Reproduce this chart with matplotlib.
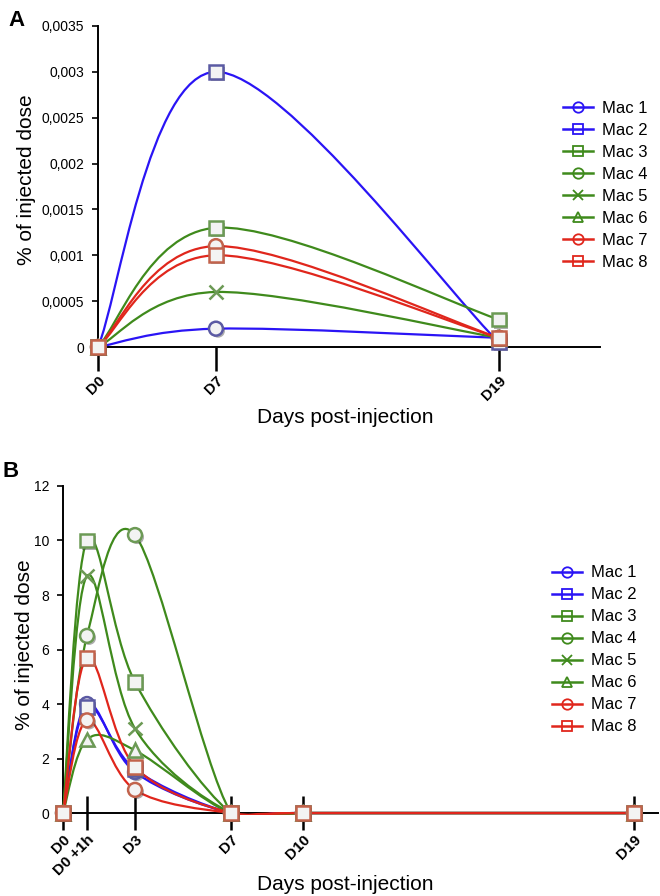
import numpy as np
import matplotlib
matplotlib.use("Agg")
import matplotlib.pyplot as plt
from matplotlib.path import Path
from matplotlib.patches import PathPatch, Rectangle
from matplotlib.lines import Line2D
import matplotlib.patheffects as pe

plt.rcParams['font.family'] = ['Liberation Sans', 'DejaVu Sans']

# series names / styles
names = ["Mac 1", "Mac 2", "Mac 3", "Mac 4", "Mac 5", "Mac 6", "Mac 7", "Mac 8"]
markers = ["o", "s", "s", "o", "x", "^", "o", "s"]
line_col = {"b": "#2a14f5", "g": "#3f8a1c", "r": "#e0261c"}
mark_col = {"b": "#5b5aa3", "g": "#6c9a55", "r": "#c2634c"}
groups = ["b", "b", "g", "g", "g", "g", "r", "r"]

# panel A : D0, D7, D19 (D19 sits at ~24 on the chart's x scale)
xA = [0, 7, 23.8]
xA_labels = ["D0", "D7", "D19"]
mac1_A = [0, 0.0002, 0.0001]
mac2_A = [0, 0.003, 0.00005]
mac3_A = [0, 0.0013, 0.0003]
mac4_A = [0, np.nan, 0.0001]
mac5_A = [0, 0.0006, 0.0001]
mac6_A = [0, np.nan, 0.0001]
mac7_A = [0, 0.0011, 0.0001]
mac8_A = [0, 0.001, 0.0001]
yA_ticks = [0, 0.0005, 0.001, 0.0015, 0.002, 0.0025, 0.003, 0.0035]
yA_labels = ["0", "0,0005", "0,001", "0,0015", "0,002", "0,0025", "0,003", "0,0035"]

# panel B
xB = [0, 1, 3, 7, 10, 23.8]
xB_labels = ["D0", "D0 +1h", "D3", "D7", "D10", "D19"]
mac1_B = [0, 4.0, 1.5, 0, 0, 0]
mac2_B = [0, 3.9, 1.6, 0, 0, 0]
mac3_B = [0, 10.0, 4.8, 0, 0, 0]
mac4_B = [0, 6.5, 10.2, 0, 0, 0]
mac5_B = [0, 8.7, 3.1, 0, 0, 0]
mac6_B = [0, 2.7, 2.3, 0, 0, 0]
mac7_B = [0, 3.4, 0.85, 0, 0, 0]
mac8_B = [0, 5.7, 1.7, 0, 0, 0]
yB_ticks = [0, 2, 4, 6, 8, 10, 12]

seriesA = [mac1_A, mac2_A, mac3_A, mac4_A, mac5_A, mac6_A, mac7_A, mac8_A]
seriesB = [mac1_B, mac2_B, mac3_B, mac4_B, mac5_B, mac6_B, mac7_B, mac8_B]


#Excelの平滑線と同じベジェ曲線
def smooth_path(x, y):
    pts = np.column_stack([x, y])
    n = len(pts)
    verts = [pts[0]]
    codes = [Path.MOVETO]
    for i in range(n - 1):
        p0 = pts[max(i - 1, 0)]
        p1 = pts[i]
        p2 = pts[i + 1]
        p3 = pts[min(i + 2, n - 1)]
        verts += [p1 + (p2 - p0) / 6, p2 - (p3 - p1) / 6, p2]
        codes += [Path.CURVE4] * 3
    return Path(verts, codes)


def draw_series(ax, x, ys):
    x = np.asarray(x, float)
    # plot area clip, a little below zero so lines on the axis stay whole
    clip = Rectangle((-0.02, -0.005), 1.04, 1.1, transform=ax.transAxes,
                     visible=False)
    ax.add_patch(clip)
    for y, m, g in zip(ys, markers, groups):
        y = np.asarray(y, float)
        ok = ~np.isnan(y)
        # consecutive valid runs
        runs, cur = [], []
        for i in range(len(y)):
            if ok[i]:
                cur.append(i)
            else:
                if cur:
                    runs.append(cur)
                cur = []
        if cur:
            runs.append(cur)
        for r in runs:
            if len(r) > 1:
                patch = PathPatch(smooth_path(x[r], y[r]), fill=False,
                                  edgecolor=line_col[g], lw=1.6, zorder=2.3)
                ax.add_patch(patch)
                patch.set_clip_path(clip)
        ax.plot(x[ok], y[ok], ls="none", marker=m, ms=10, mfc="#f3f3f3",
                mec=mark_col[g], mew=1.8, zorder=2.4, clip_on=False,
                path_effects=[pe.SimplePatchShadow(offset=(1.5, -1.5), alpha=0.45),
                              pe.Normal()])


def style_axes(ax):
    for s in ["top", "right"]:
        ax.spines[s].set_visible(False)
    for s in ["left", "bottom"]:
        ax.spines[s].set_linewidth(1.4)
        ax.spines[s].set_zorder(1)
    ax.tick_params(axis="y", direction="out", length=4, width=1.2, labelsize=10, pad=6)


def legend(ax, anchor):
    handles = [Line2D([], [], color=line_col[g], lw=1.8, marker=m, ms=7.5,
                      mfc="none", mec=line_col[g], mew=1.3)
               for m, g in zip(markers, groups)]
    ax.legend(handles, names, loc="upper left", bbox_to_anchor=anchor,
              bbox_transform=fig.transFigure, frameon=False, fontsize=12,
              borderpad=0, borderaxespad=0, handlelength=1.8,
              handletextpad=0.55, labelspacing=0.42)


fig = plt.figure(figsize=(6.6, 8.96), dpi=100)

# ---- A ----
axA = fig.add_axes([0.1485, 0.6127, 0.7606, 0.3583])
draw_series(axA, xA, seriesA)
axA.set_xlim(0, 29.8)
axA.set_ylim(0, 0.0035)
axA.set_yticks(yA_ticks, yA_labels)
axA.set_xticks(xA, xA_labels)
style_axes(axA)
axA.tick_params(axis="x", direction="out", length=17, width=1.8, pad=2)
for lab in axA.get_xticklabels():
    lab.set(rotation=45, ha="right", va="top", rotation_mode="anchor",
            fontweight="bold", fontsize=11)
axA.set_ylabel("% of injected dose", fontsize=15)
axA.yaxis.set_label_coords(-0.123, 0.52)
axA.set_xlabel("Days post-injection", fontsize=15)
axA.xaxis.set_label_coords(0.492, -0.19)
legend(axA, (0.853, 0.887))
fig.text(0.013, 0.9887, "A", fontsize=16, fontweight="bold", va="top")

# ---- B ----
axB = fig.add_axes([0.0955, 0.0926, 0.9015, 0.365])
draw_series(axB, xB, seriesB)
axB.set_xlim(0, 24.8)
axB.set_ylim(0, 12)
axB.set_yticks(yB_ticks)
axB.set_xticks(xB, xB_labels)
style_axes(axB)
axB.tick_params(axis="x", direction="inout", length=24, width=1.8, pad=2)
for lab in axB.get_xticklabels():
    lab.set(rotation=45, ha="right", va="top", rotation_mode="anchor",
            fontweight="bold", fontsize=11)
axB.set_ylabel("% of injected dose", fontsize=15)
axB.yaxis.set_label_coords(-0.049, 0.514)
axB.set_xlabel("Days post-injection", fontsize=15)
axB.xaxis.set_label_coords(0.474, -0.19)
legend(axB, (0.836, 0.369))
fig.text(0.004, 0.486, "B", fontsize=16, fontweight="bold", va="top")

fig.savefig("out.png", dpi=100)
